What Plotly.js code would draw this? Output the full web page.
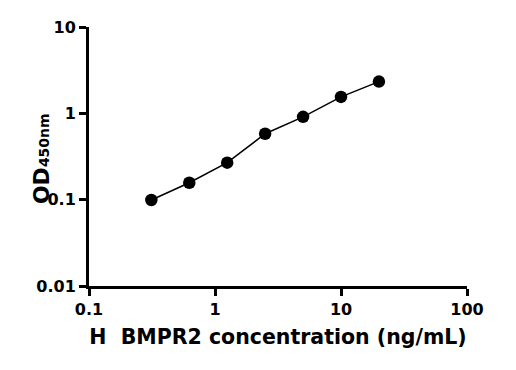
<!DOCTYPE html>
<html>
<head>
<meta charset="utf-8">
<script src="https://cdn.plot.ly/plotly-3.0.1.min.js"></script>
<style>html,body{margin:0;padding:0;background:#fff;}#chart{width:516px;height:370px;}</style>
</head>
<body>
<div id="chart"></div>
<script>
const concentration = [0.3125, 0.625, 1.25, 2.5, 5, 10, 20];
const od450 = [0.099, 0.157, 0.268, 0.58, 0.91, 1.55, 2.33];
const xTickVals = [0.1, 1, 10, 100];
const xTickText = ['0.1', '1', '10', '100'];
const yTickVals = [0.01, 0.1, 1, 10];
const yTickText = ['0.01', '0.1', '1', '10'];

const bold = t => '<b>' + t + '</b>';
const tickFont = {family: 'DejaVu Sans', size: 16, color: '#000', weight: 'bold'};

Plotly.newPlot('chart', [{
  x: concentration,
  y: od450,
  mode: 'lines+markers',
  type: 'scatter',
  line: {color: '#000', width: 1.5},
  marker: {color: '#000', size: 12.5, symbol: 'circle'},
  showlegend: false,
  hoverinfo: 'none'
}], {
  width: 516, height: 370,
  margin: {l: 89, r: 49, t: 27, b: 84},
  paper_bgcolor: '#fff', plot_bgcolor: '#fff',
  font: {family: 'DejaVu Sans', size: 13, color: '#000', weight: 'bold'},
  xaxis: {
    type: 'log', range: [-1, 2],
    tickmode: 'array', tickvals: xTickVals, ticktext: xTickText.map(bold),
    showgrid: false, zeroline: false,
    showline: true, linecolor: '#000', linewidth: 3,
    ticks: 'outside', ticklen: 7, tickwidth: 3, tickcolor: '#000',
    tickfont: tickFont,
    title: {text: 'H\u00A0 BMPR2 concentration (ng/mL)', font: {family: 'DejaVu Sans', size: 20.5, color: '#000', weight: 'bold'}, standoff: 12}
  },
  yaxis: {
    type: 'log', range: [-2, 1],
    tickmode: 'array', tickvals: yTickVals, ticktext: yTickText.map(bold),
    showgrid: false, zeroline: false,
    showline: true, linecolor: '#000', linewidth: 3,
    ticks: 'outside', ticklen: 7, tickwidth: 3, tickcolor: '#000',
    tickfont: tickFont
  },
  annotations: [{
    text: '<b>OD<span style="font-size:14px">450nm</span></b>',
    xref: 'paper', yref: 'paper',
    x: (41 - 89) / 378, y: 0.49,
    xanchor: 'center', yanchor: 'middle',
    textangle: -90, showarrow: false,
    font: {family: 'DejaVu Sans', size: 22, color: '#000', weight: 'bold'}
  }]
}, {displayModeBar: false, staticPlot: true});
</script>
</body>
</html>
